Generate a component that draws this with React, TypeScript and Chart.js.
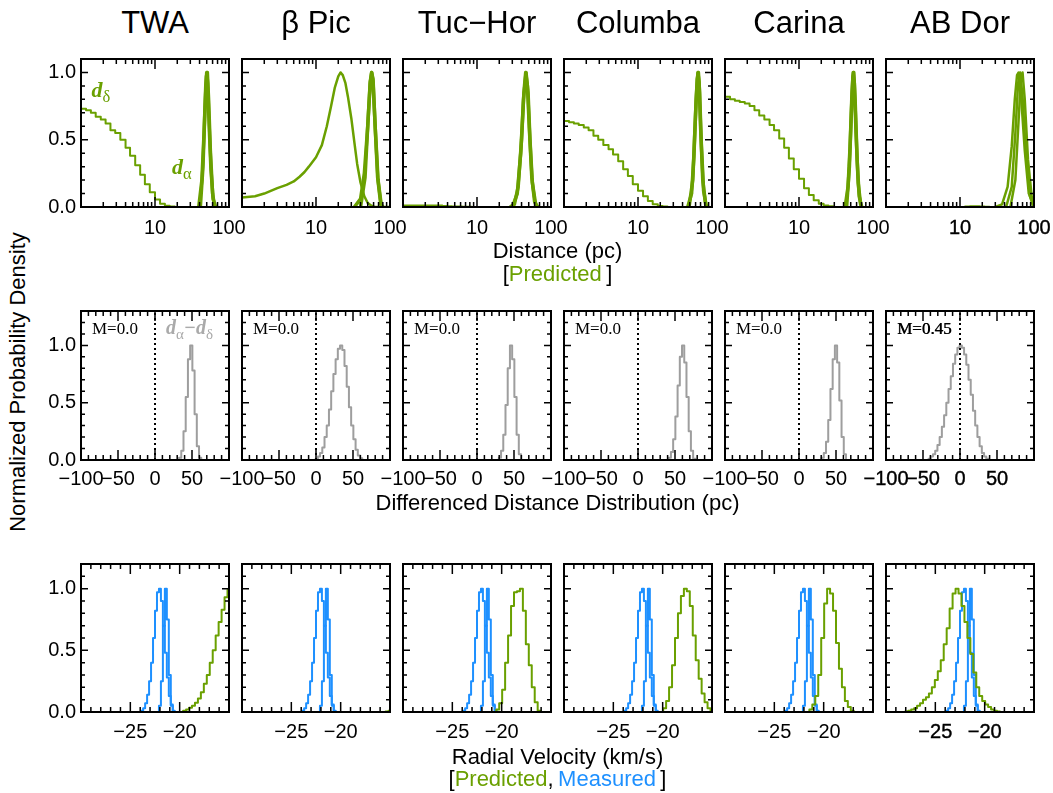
import React, { useEffect, useRef } from 'react';
import { Chart, registerables } from 'chart.js';

Chart.register(...registerables);

type Pt = [number, number];

const GREEN = '#6aa000';
const BLUE = '#1e90ff';
const GRAY = '#9e9e9e';
const LABEL_GRAY = '#aaaaaa';
const SANS = "'Liberation Sans', Arial, Helvetica, sans-serif";
const SERIF = "'Liberation Serif', 'Times New Roman', serif";

const GROUPS = ['TWA', 'β Pic', 'Tuc\u2212Hor', 'Columba', 'Carina', 'AB Dor'];
const M_LABELS = ['M=0.0', 'M=0.0', 'M=0.0', 'M=0.0', 'M=0.0', 'M=0.45'];

// ---------- Top row: distance (pc), log axis ----------
const DIST_EDGES = [1, 1.17, 1.36, 1.58, 1.85, 2.15, 2.5, 2.9, 3.4, 4.0, 4.6, 5.4, 6.3, 7.3, 8.5, 10, 11.7, 13.6, 15.8, 18.5, 21.5, 25, 29, 34, 40, 46, 54, 63, 73, 85, 100];
// value of the bin just below 1 pc (drawn as the jump at the left edge)
const D_DELTA_UNDER = [1.0, 0.07, 1.0, 1.0, 1.0, 0];
const TWA_D_DELTA = [0.73, 0.72, 0.70, 0.67, 0.65, 0.62, 0.57, 0.55, 0.50, 0.44, 0.38, 0.31, 0.24, 0.17, 0.11, 0.055, 0.025, 0.01, 0.004, 0, 0, 0, 0, 0, 0, 0, 0, 0, 0, 0];
const TUCHOR_D_DELTA = [0.012, 0.012, 0.012, 0.012, 0.012, 0.012, 0.012, 0.012, 0.008, 0.006, 0.004, 0.003, 0.002, 0.001, 0, 0, 0, 0, 0, 0, 0, 0, 0, 0, 0, 0, 0, 0, 0, 0];
const COLUMBA_D_DELTA = [0.64, 0.63, 0.62, 0.61, 0.59, 0.57, 0.53, 0.50, 0.46, 0.43, 0.39, 0.34, 0.28, 0.23, 0.17, 0.12, 0.08, 0.045, 0.02, 0.008, 0.003, 0, 0, 0, 0, 0, 0, 0, 0, 0];
const CARINA_D_DELTA = [0.82, 0.80, 0.79, 0.78, 0.77, 0.75, 0.72, 0.68, 0.65, 0.61, 0.57, 0.51, 0.44, 0.36, 0.28, 0.21, 0.14, 0.09, 0.05, 0.025, 0.012, 0.005, 0, 0, 0, 0, 0, 0, 0, 0];
const ABDOR_D_DELTA = [0, 0, 0, 0, 0, 0, 0, 0, 0, 0, 0, 0, 0, 0, 0, 0, 0.003, 0.005, 0.005, 0.003, 0.001, 0, 0, 0, 0, 0, 0, 0, 0, 0];
// β Pic's d_delta is a smooth, peaked distribution
const BPIC_D_DELTA_CURVE: Pt[] = [[1, 0.07], [1.5, 0.08], [2, 0.1], [3, 0.14], [4, 0.165], [5, 0.19], [6, 0.225], [7, 0.26], [8, 0.3], [10, 0.37], [12, 0.46], [14, 0.6], [16, 0.75], [18, 0.89], [20, 0.97], [21.5, 1.0], [23, 0.98], [25, 0.92], [27, 0.82], [30, 0.66], [33, 0.48], [36, 0.32], [40, 0.18], [45, 0.08], [50, 0.03], [56, 0.01], [62, 0], [100, 0]];

const TWA_D_ALPHA_A: Pt[] = [[39, 0], [43, 0.2], [46, 0.55], [48.5, 0.9], [50, 1.0], [51.5, 0.92], [54, 0.6], [57, 0.28], [61, 0.06], [66, 0]];
const TWA_D_ALPHA_B: Pt[] = [[41, 0], [44.5, 0.3], [47.5, 0.75], [49.5, 0.97], [51, 1.0], [53, 0.8], [56, 0.42], [60, 0.1], [64, 0]];
const BPIC_D_ALPHA_A: Pt[] = [[33, 0], [40, 0.06], [45, 0.25], [50, 0.6], [54, 0.92], [56.5, 1.0], [59, 0.93], [63, 0.6], [69, 0.2], [76, 0.02], [80, 0]];
const BPIC_D_ALPHA_B: Pt[] = [[40, 0], [46, 0.22], [50, 0.6], [54, 0.93], [56.5, 1.0], [59, 0.95], [63, 0.6], [68, 0.22], [75, 0.02], [79, 0]];
const TUCHOR_D_ALPHA_A: Pt[] = [[28, 0], [32, 0.02], [36, 0.15], [40, 0.5], [43, 0.85], [45.5, 1.0], [48, 0.9], [51, 0.58], [55, 0.22], [60, 0.04], [66, 0]];
const TUCHOR_D_ALPHA_B: Pt[] = [[30, 0], [35, 0.1], [39, 0.4], [42.5, 0.8], [46, 1.0], [49, 0.85], [52, 0.5], [56, 0.18], [62, 0.02], [66, 0]];
const COLUMBA_D_ALPHA_A: Pt[] = [[47, 0], [53, 0.1], [57, 0.38], [61, 0.8], [64.5, 1.0], [67, 0.93], [70, 0.6], [75, 0.2], [82, 0.02], [86, 0]];
const COLUMBA_D_ALPHA_B: Pt[] = [[49, 0], [55, 0.2], [59, 0.6], [63, 0.95], [65.5, 1.0], [68, 0.85], [72, 0.45], [77, 0.12], [84, 0]];
const CARINA_D_ALPHA_A: Pt[] = [[42, 0], [46, 0.15], [49, 0.45], [52, 0.85], [54, 1.0], [56, 0.92], [59, 0.55], [63, 0.18], [68, 0.02], [71, 0]];
const CARINA_D_ALPHA_B: Pt[] = [[44, 0], [48, 0.3], [51, 0.7], [53.5, 0.97], [55, 1.0], [57.5, 0.78], [61, 0.35], [65, 0.08], [70, 0]];
const ABDOR_D_ALPHA_A: Pt[] = [[30, 0], [37, 0.02], [44, 0.15], [50, 0.45], [55, 0.8], [59, 0.98], [62, 1.0], [67, 0.82], [75, 0.42], [85, 0.1], [100, 0.01]];
const ABDOR_D_ALPHA_B: Pt[] = [[42, 0], [50, 0.15], [56, 0.55], [61, 0.92], [65, 1.0], [70, 0.82], [78, 0.38], [88, 0.08], [98, 0]];
const ABDOR_D_ALPHA_C: Pt[] = [[48, 0], [56, 0.2], [62, 0.65], [67, 0.98], [70, 1.0], [75, 0.8], [83, 0.35], [93, 0.08], [100, 0.03]];

// ---------- Middle row: differenced distance (pc) ----------
const TWA_DIFF: Pt[] = [[31, 0], [34, 0.02], [37, 0.08], [40, 0.25], [43, 0.55], [46, 0.88], [49, 1.0], [52, 0.78], [55, 0.4], [58, 0.12], [61, 0.02], [64, 0]];
const BPIC_DIFF: Pt[] = [[-2, 0], [1, 0.01], [4, 0.03], [7, 0.06], [10, 0.11], [13, 0.2], [16, 0.3], [19, 0.44], [22, 0.6], [25, 0.75], [28, 0.88], [31, 0.97], [34, 1.0], [37, 0.96], [40, 0.82], [43, 0.64], [46, 0.46], [49, 0.3], [52, 0.18], [55, 0.09], [58, 0.04], [61, 0.015], [64, 0]];
const TUCHOR_DIFF: Pt[] = [[28, 0], [31, 0.02], [34, 0.08], [37, 0.22], [40, 0.48], [43, 0.8], [46, 1.0], [49, 0.88], [52, 0.55], [55, 0.22], [58, 0.05], [61, 0]];
const COLUMBA_DIFF: Pt[] = [[40, 0], [43, 0.02], [46, 0.07], [49, 0.18], [52, 0.38], [55, 0.65], [58, 0.9], [61, 1.0], [64, 0.85], [67, 0.55], [70, 0.25], [73, 0.08], [76, 0.01], [79, 0]];
const CARINA_DIFF: Pt[] = [[29, 0], [32, 0.02], [35, 0.06], [38, 0.16], [41, 0.35], [44, 0.62], [47, 0.88], [50, 1.0], [53, 0.85], [56, 0.52], [59, 0.2], [62, 0.05], [65, 0]];
const ABDOR_DIFF: Pt[] = [[-44, 0], [-41, 0.01], [-38, 0.03], [-35, 0.05], [-32, 0.08], [-29, 0.13], [-26, 0.2], [-23, 0.29], [-20, 0.39], [-17, 0.5], [-14, 0.62], [-11, 0.73], [-8, 0.84], [-5, 0.92], [-2, 0.98], [1, 1.0], [4, 0.98], [7, 0.92], [10, 0.83], [13, 0.7], [16, 0.57], [19, 0.43], [22, 0.3], [25, 0.2], [28, 0.12], [31, 0.06], [34, 0.03], [37, 0.01], [40, 0]];
const ZERO_LINE: Pt[] = [[0, 0], [0, 1.3]];

// ---------- Bottom row: radial velocity (km/s) ----------
const RV_MEASURED_A: Pt[] = [[-24.0, 0], [-23.8, 0.01], [-23.6, 0.03], [-23.4, 0.07], [-23.2, 0.14], [-23.0, 0.25], [-22.8, 0.4], [-22.6, 0.6], [-22.4, 0.82], [-22.2, 0.97], [-22.0, 1.0], [-21.8, 0.9], [-21.6, 0.7], [-21.4, 0.48], [-21.2, 0.28], [-21.0, 0.13], [-20.8, 0.05], [-20.6, 0.01], [-20.4, 0]];
const RV_MEASURED_B: Pt[] = [[-22.2, 0], [-22.0, 0.05], [-21.8, 0.25], [-21.6, 0.7], [-21.4, 1.0], [-21.2, 0.75], [-21.0, 0.3], [-20.8, 0.06], [-20.6, 0]];
const TWA_RV_PRED: Pt[] = [[-19.8, 0], [-19.5, 0.01], [-19.2, 0.02], [-18.9, 0.035], [-18.6, 0.05], [-18.3, 0.075], [-18.0, 0.11], [-17.7, 0.16], [-17.4, 0.23], [-17.1, 0.3], [-16.8, 0.4], [-16.5, 0.5], [-16.2, 0.62], [-15.9, 0.73], [-15.6, 0.83], [-15.3, 0.93], [-15.0, 0.99]];
const BPIC_RV_PRED: Pt[] = [[-15.6, 0], [-15.3, 0.005], [-15.0, 0.01]];
const TUCHOR_RV_PRED: Pt[] = [[-20.7, 0], [-20.4, 0.02], [-20.1, 0.07], [-19.8, 0.18], [-19.5, 0.4], [-19.2, 0.62], [-18.9, 0.86], [-18.6, 0.97], [-18.3, 0.98], [-18.0, 1.0], [-17.7, 0.82], [-17.4, 0.55], [-17.1, 0.38], [-16.8, 0.2], [-16.5, 0.08], [-16.2, 0.01], [-15.9, 0]];
const COLUMBA_RV_PRED: Pt[] = [[-20.1, 0], [-19.8, 0.03], [-19.5, 0.09], [-19.2, 0.2], [-18.9, 0.38], [-18.6, 0.6], [-18.3, 0.8], [-18.0, 0.94], [-17.7, 1.0], [-17.4, 0.98], [-17.1, 0.86], [-16.8, 0.62], [-16.5, 0.42], [-16.2, 0.27], [-15.9, 0.15], [-15.6, 0.08], [-15.3, 0.03], [-15.0, 0.01]];
const CARINA_RV_PRED: Pt[] = [[-21.6, 0], [-21.3, 0.02], [-21.0, 0.06], [-20.7, 0.13], [-20.4, 0.3], [-20.1, 0.6], [-19.8, 0.88], [-19.5, 1.0], [-19.2, 0.96], [-18.9, 0.82], [-18.6, 0.56], [-18.3, 0.35], [-18.0, 0.2], [-17.7, 0.09], [-17.4, 0.04], [-17.1, 0.01], [-16.8, 0]];
const ABDOR_RV_PRED: Pt[] = [[-28.2, 0], [-27.9, 0.005], [-27.6, 0.01], [-27.3, 0.02], [-27.0, 0.03], [-26.7, 0.05], [-26.4, 0.07], [-26.1, 0.1], [-25.8, 0.12], [-25.5, 0.15], [-25.2, 0.2], [-24.9, 0.26], [-24.6, 0.33], [-24.3, 0.42], [-24.0, 0.55], [-23.7, 0.68], [-23.4, 0.84], [-23.1, 0.96], [-22.8, 1.0], [-22.5, 0.96], [-22.2, 0.86], [-21.9, 0.73], [-21.6, 0.6], [-21.3, 0.47], [-21.0, 0.32], [-20.7, 0.2], [-20.4, 0.13], [-20.1, 0.09], [-19.8, 0.06], [-19.5, 0.04], [-19.2, 0.02], [-18.9, 0.01], [-18.6, 0.005], [-18.3, 0]];

// ---------- ticks ----------
const DIST_TICKS = [1, 2, 3, 4, 5, 6, 7, 8, 9, 10, 20, 30, 40, 50, 60, 70, 80, 90, 100];
const DIST_MAJOR = [1, 10, 100];
const DIST_LABEL_VALUES = [10, 100];
const DIST_LABEL_TEXT = ['10', '100'];
const DIFF_TICKS = [-100, -90, -80, -70, -60, -50, -40, -30, -20, -10, 0, 10, 20, 30, 40, 50, 60, 70, 80, 90, 100];
const DIFF_MAJOR = [-100, -50, 0, 50, 100];
const DIFF_LABEL_VALUES = [-100, -50, 0, 50];
const DIFF_LABEL_TEXT = ['\u2212100', '\u221250', '0', '50'];
const RV_TICKS = [-30, -29, -28, -27, -26, -25, -24, -23, -22, -21, -20, -19, -18, -17, -16, -15];
const RV_MAJOR = [-30, -25, -20, -15];
const RV_LABEL_VALUES = [-25, -20];
const RV_LABEL_TEXT = ['\u221225', '\u221220'];
const Y_TICKS = [0, 0.1, 0.2, 0.3, 0.4, 0.5, 0.6, 0.7, 0.8, 0.9, 1.0, 1.1, 1.2];
const Y_MAJOR = [0, 0.5, 1.0];
const Y_LABEL_TEXT = ['0.0', '0.5', '1.0'];

// ---------- layout ----------
const PANEL_X = [81, 242, 403, 564, 725, 886];
const PANEL_W = 148;
const ROW_TOP = [52, 304, 557];
const ROW_H = [155, 156, 155];
const PAD_L = 50;
const PAD_R = 30;
const PAD_T = 10;
const PAD_B = 40;
const TICK_FONT = 20;

const toXY = (pts: Pt[]) => pts.map(([x, y]) => ({ x, y }));

function ds(pts: Pt[], color: string, width: number, stepped: any = false, dash: number[] = []) {
  return {
    data: toXY(pts),
    borderColor: color,
    borderWidth: width,
    pointRadius: 0,
    stepped,
    fill: false,
    tension: 0,
    borderDash: dash,
    borderJoinStyle: 'round' as const,
  };
}

function deltaSteps(under: number, vals: number[]): Pt[] {
  const pts: Pt[] = [[DIST_EDGES[0], under]];
  vals.forEach((v, i) => pts.push([DIST_EDGES[i], v]));
  pts.push([DIST_EDGES[vals.length], vals[vals.length - 1]]);
  return pts;
}

const D_DELTA: (number[] | null)[] = [TWA_D_DELTA, null, TUCHOR_D_DELTA, COLUMBA_D_DELTA, CARINA_D_DELTA, ABDOR_D_DELTA];
const D_ALPHA: Pt[][][] = [
  [TWA_D_ALPHA_A, TWA_D_ALPHA_B],
  [BPIC_D_ALPHA_A, BPIC_D_ALPHA_B],
  [TUCHOR_D_ALPHA_A, TUCHOR_D_ALPHA_B],
  [COLUMBA_D_ALPHA_A, COLUMBA_D_ALPHA_B],
  [CARINA_D_ALPHA_A, CARINA_D_ALPHA_B],
  [ABDOR_D_ALPHA_A, ABDOR_D_ALPHA_B, ABDOR_D_ALPHA_C],
];
const DIFFS = [TWA_DIFF, BPIC_DIFF, TUCHOR_DIFF, COLUMBA_DIFF, CARINA_DIFF, ABDOR_DIFF];
const RV_PRED = [TWA_RV_PRED, BPIC_RV_PRED, TUCHOR_RV_PRED, COLUMBA_RV_PRED, CARINA_RV_PRED, ABDOR_RV_PRED];

interface RowAxis {
  xType: 'linear' | 'logarithmic';
  xMin: number;
  xMax: number;
  xTicks: number[];
  xMajor: number[];
  xLabelValues: number[];
  xLabelText: string[];
  yMax: number;
  labelPad: number;
}

const ROW_AXES: RowAxis[] = [
  { xType: 'logarithmic', xMin: 1, xMax: 100, xTicks: DIST_TICKS, xMajor: DIST_MAJOR, xLabelValues: DIST_LABEL_VALUES, xLabelText: DIST_LABEL_TEXT, yMax: 1.1, labelPad: 9 },
  { xType: 'linear', xMin: -100, xMax: 100, xTicks: DIFF_TICKS, xMajor: DIFF_MAJOR, xLabelValues: DIFF_LABEL_VALUES, xLabelText: DIFF_LABEL_TEXT, yMax: 1.3, labelPad: 7 },
  { xType: 'linear', xMin: -30, xMax: -15, xTicks: RV_TICKS, xMajor: RV_MAJOR, xLabelValues: RV_LABEL_VALUES, xLabelText: RV_LABEL_TEXT, yMax: 1.2, labelPad: 8 },
];

function datasetsFor(row: number, col: number) {
  if (row === 0) {
    const dd = D_DELTA[col];
    const out: any[] = [
      dd ? ds(deltaSteps(D_DELTA_UNDER[col], dd), GREEN, 2, 'before') : ds(BPIC_D_DELTA_CURVE, GREEN, 2.5),
    ];
    D_ALPHA[col].forEach((c) => out.push(ds(c, GREEN, col === 5 ? 2.5 : 3.5)));
    return out;
  }
  if (row === 1) {
    return [ds(ZERO_LINE, '#000', 2, false, [2, 3]), ds(DIFFS[col], GRAY, 2, 'middle')];
  }
  return [
    ds(RV_PRED[col], GREEN, 2, 'middle'),
    ds(RV_MEASURED_A, BLUE, 2, 'middle'),
    ds(RV_MEASURED_B, BLUE, 2, 'middle'),
  ];
}

function makeFrame(xMajor: number[]) {
  return {
    id: 'frame',
    afterDatasetsDraw(chart: any) {
      const { ctx, chartArea: a } = chart;
      const xs = chart.scales.x;
      const ys = chart.scales.y;
      ctx.save();
      ctx.strokeStyle = '#000';
      ctx.lineWidth = 1.5;
      ctx.beginPath();
      xs.ticks.forEach((t: any) => {
        const p = xs.getPixelForValue(t.value);
        if (p <= a.left + 0.5 || p >= a.right - 0.5) return;
        const len = xMajor.includes(t.value) ? 10 : 5;
        ctx.moveTo(p, a.bottom);
        ctx.lineTo(p, a.bottom - len);
        ctx.moveTo(p, a.top);
        ctx.lineTo(p, a.top + len);
      });
      ys.ticks.forEach((t: any) => {
        const p = ys.getPixelForValue(t.value);
        if (p >= a.bottom - 0.5 || p <= a.top + 0.5) return;
        const len = Y_MAJOR.includes(t.value) ? 7 : 4;
        ctx.moveTo(a.left, p);
        ctx.lineTo(a.left + len, p);
        ctx.moveTo(a.right, p);
        ctx.lineTo(a.right - len, p);
      });
      ctx.stroke();
      ctx.lineWidth = 2;
      ctx.strokeRect(a.left, a.top, a.right - a.left, a.bottom - a.top);
      ctx.restore();
    },
  };
}

function Panel({ row, col }: { row: number; col: number }) {
  const ref = useRef<HTMLCanvasElement>(null);
  const ax = ROW_AXES[row];
  const w = PAD_L + PANEL_W + PAD_R;
  const h = PAD_T + ROW_H[row] + PAD_B;
  useEffect(() => {
    if (!ref.current) return;
    const yTicks = Y_TICKS.filter((v) => v < ax.yMax - 1e-9);
    const bold = col === 5;
    const chart = new Chart(ref.current, {
      type: 'line',
      data: { datasets: datasetsFor(row, col) },
      options: {
        responsive: false,
        animation: false,
        events: [],
        layout: { padding: { left: 0, right: PAD_R, top: PAD_T, bottom: 0 } },
        plugins: { legend: { display: false }, tooltip: { enabled: false } },
        scales: {
          x: {
            type: ax.xType,
            position: 'bottom',
            min: ax.xMin,
            max: ax.xMax,
            grid: { display: false, drawTicks: false },
            border: { display: false },
            ticks: {
              autoSkip: false,
              maxRotation: 0,
              minRotation: 0,
              padding: ax.labelPad,
              color: '#000',
              font: { family: SANS, size: TICK_FONT },
              textStrokeColor: '#000',
              textStrokeWidth: bold ? 0.4 : 0,
              callback: (v: any) => {
                const i = ax.xLabelValues.indexOf(Number(v));
                return i >= 0 ? ax.xLabelText[i] : '';
              },
            },
            afterBuildTicks: (s: any) => {
              s.ticks = ax.xTicks.map((v) => ({ value: v }));
            },
            afterFit: (s: any) => {
              s.height = PAD_B;
            },
          } as any,
          y: {
            type: 'linear',
            position: 'left',
            min: 0,
            max: ax.yMax,
            grid: { display: false, drawTicks: false },
            border: { display: false },
            ticks: {
              autoSkip: false,
              padding: 5,
              color: '#000',
              font: { family: SANS, size: TICK_FONT },
              callback: (v: any) => {
                if (col !== 0) return '';
                const i = Y_MAJOR.indexOf(Number(v));
                return i >= 0 ? Y_LABEL_TEXT[i] : '';
              },
            },
            afterBuildTicks: (s: any) => {
              s.ticks = yTicks.map((v) => ({ value: v }));
            },
            afterFit: (s: any) => {
              s.width = PAD_L;
            },
          } as any,
        },
      },
      plugins: [makeFrame(ax.xMajor)],
    });
    return () => chart.destroy();
  }, [row, col]);
  return (
    <canvas
      ref={ref}
      width={w}
      height={h}
      style={{ position: 'absolute', left: PANEL_X[col] - PAD_L, top: ROW_TOP[row] - PAD_T, width: w, height: h }}
    />
  );
}

function Sub({ children }: { children: React.ReactNode }) {
  return <span style={{ fontSize: '0.75em', verticalAlign: '-0.3em', lineHeight: 0, fontStyle: 'normal', fontWeight: 'normal' }}>{children}</span>;
}

function Lbl({ left, base, size, color, children, family = SERIF, style = {} }: any) {
  return (
    <div
      style={{
        position: 'absolute',
        left,
        top: base - 0.8375 * size,
        fontFamily: family,
        fontSize: size,
        lineHeight: `${size}px`,
        color,
        whiteSpace: 'nowrap',
        ...style,
      }}
    >
      {children}
    </div>
  );
}

function Centered({ cx, top, size, children }: any) {
  return (
    <div
      style={{
        position: 'absolute',
        left: cx,
        top,
        transform: 'translateX(-50%)',
        fontFamily: SANS,
        fontSize: size,
        lineHeight: `${size}px`,
        whiteSpace: 'nowrap',
        color: '#000',
      }}
    >
      {children}
    </div>
  );
}

export default function App() {
  const centerX = (PANEL_X[0] + PANEL_X[5] + PANEL_W) / 2;
  return (
    <div style={{ position: 'absolute', left: 0, top: 0, width: 1053, height: 793, background: '#fff', overflow: 'hidden' }}>
      {[0, 1, 2].map((r) => [0, 1, 2, 3, 4, 5].map((c) => <Panel key={`${r}-${c}`} row={r} col={c} />))}

      {GROUPS.map((g, i) => (
        <Centered key={g} cx={PANEL_X[i] + PANEL_W / 2} top={7} size={31}>
          {g}
        </Centered>
      ))}

      <div
        style={{
          position: 'absolute',
          left: 17.5,
          top: 382,
          transform: 'translate(-50%, -50%) rotate(-90deg)',
          fontFamily: SANS,
          fontSize: 22,
          lineHeight: '22px',
          whiteSpace: 'nowrap',
        }}
      >
        Normalized Probability Density
      </div>

      <Centered cx={centerX} top={239.5} size={22}>Distance (pc)</Centered>
      <Centered cx={centerX} top={262.5} size={22}>
        [<span style={{ color: GREEN }}>Predicted</span>{'\u2009'}]
      </Centered>
      <Centered cx={centerX} top={491.5} size={22}>Differenced Distance Distribution (pc)</Centered>
      <Centered cx={centerX} top={745.5} size={22}>Radial Velocity (km/s)</Centered>
      <Centered cx={centerX} top={767.5} size={22}>
        [<span style={{ color: GREEN }}>Predicted</span>,{'\u2009'}<span style={{ color: BLUE }}>Measured</span>{'\u2009'}]
      </Centered>

      <Lbl left={91.5} base={97} size={22} color={GREEN} style={{ fontStyle: 'italic', fontWeight: 'bold' }}>
        d<Sub>δ</Sub>
      </Lbl>
      <Lbl left={172} base={174} size={22} color={GREEN} style={{ fontStyle: 'italic', fontWeight: 'bold' }}>
        d<Sub>α</Sub>
      </Lbl>
      <Lbl left={166} base={334} size={20} color={LABEL_GRAY} style={{ fontStyle: 'italic', fontWeight: 'bold' }}>
        d<Sub>α</Sub>{'\u2212'}d<Sub>δ</Sub>
      </Lbl>

      {M_LABELS.map((m, i) => (
        <Lbl
          key={i}
          left={PANEL_X[i] + 11}
          base={334}
          size={17}
          color="#000"
          style={i === 5 ? { textShadow: '0.5px 0 0 #000' } : {}}
        >
          {m}
        </Lbl>
      ))}
    </div>
  );
}
